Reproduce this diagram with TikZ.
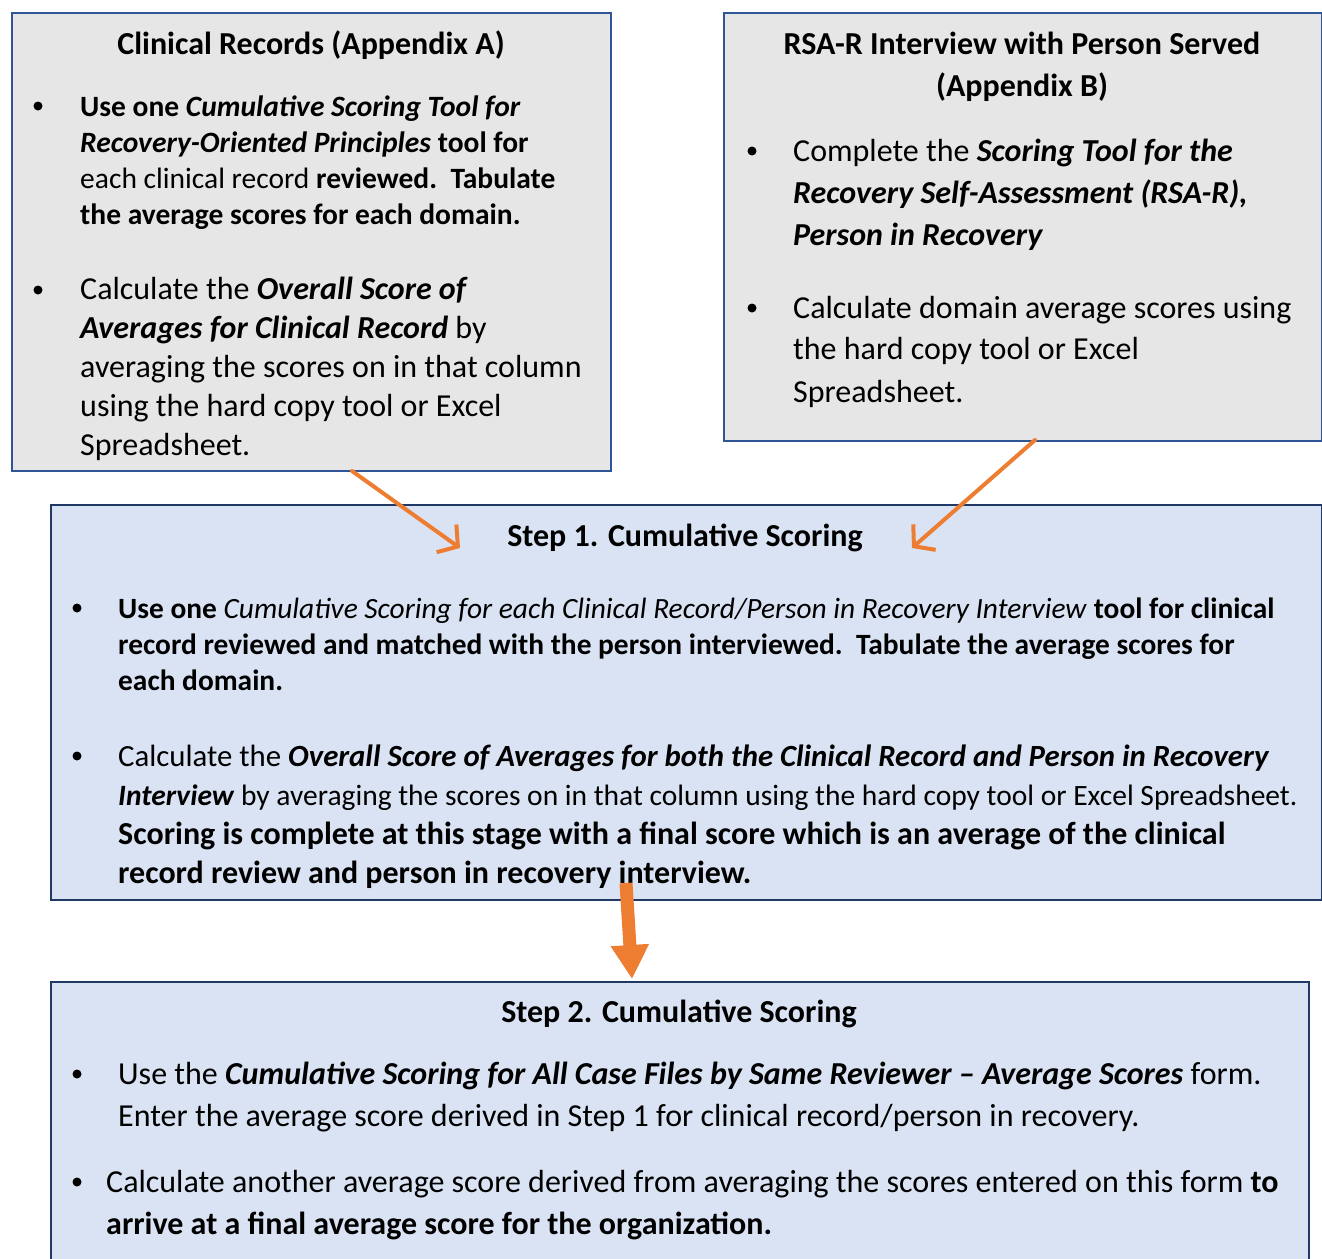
\documentclass[tikz,border=0pt]{standalone}
\usepackage{fontspec}
\setmainfont{Carlito}
\usetikzlibrary{arrows.meta}
\definecolor{graybox}{HTML}{E6E6E6}
\definecolor{grayborder}{HTML}{2F5597}
\definecolor{bluebox}{HTML}{DAE3F3}
\definecolor{blueborder}{HTML}{1F3864}
\definecolor{arroworange}{HTML}{ED7D31}
\newcommand\fsz[1]{\fontsize{#1}{#1}\selectfont}
\newcommand\bi[1]{\textbf{\textit{#1}}}
\tikzset{
  graypanel/.style={draw=grayborder, fill=graybox, line width=2pt, anchor=north west, inner sep=0pt},
  bluepanel/.style={draw=blueborder, fill=bluebox, line width=2pt, anchor=north west, inner sep=0pt},
  ln/.style={anchor=base west, inner sep=0pt},
  ttl/.style={anchor=base, inner sep=0pt, font=\fsz{32}\bfseries},
  dot/.style={circle, fill=black, inner sep=0pt, minimum size=9pt},
  thinarrow/.style={draw=arroworange, line width=4pt, line cap=round, -{Straight Barb[length=14pt,width=34pt,line width=4pt]}},
  fatarrow/.style={draw=arroworange, line width=13pt, -{Triangle[length=34pt,width=36pt]}}
}
\begin{document}
\begin{tikzpicture}[x=1pt,y=-1pt]
\useasboundingbox (0,0) rectangle (1322,1258);
% panels
\node[graypanel, minimum width=599pt, minimum height=458pt] (A) at (11,12) {};
\node[graypanel, minimum width=598pt, minimum height=428pt] (B) at (723,12) {};
\node[bluepanel, minimum width=1271pt, minimum height=395pt] (S1) at (50,504) {};
\node[bluepanel, minimum width=1258pt, minimum height=290pt] (S2) at (50,981) {};

% Box A
\node[ttl] (At) at (311,54) {Clinical Records (Appendix A)};
\node[dot] (Ad1) at (38,106) {};
\node[ln, font=\fsz{29.5}] (A1) at (80,116) {\textbf{Use one \textit{Cumulative Scoring Tool for}}};
\node[ln, font=\fsz{29.5}] (A2) at (80,152) {\textbf{\textit{Recovery-Oriented Principles} tool for}};
\node[ln, font=\fsz{29.5}] (A3) at (80,188) {each clinical record \textbf{reviewed.\ \ Tabulate}};
\node[ln, font=\fsz{29.5}] (A4) at (80,224) {\textbf{the average scores for each domain.}};
\node[dot] (Ad2) at (38,290) {};
\node[ln, font=\fsz{32}] (A5) at (80,299) {Calculate the \bi{Overall Score of}};
\node[ln, font=\fsz{32}] (A6) at (80,338) {\bi{Averages for Clinical Record} by};
\node[ln, font=\fsz{32}] (A7) at (80,377) {averaging the scores on in that column};
\node[ln, font=\fsz{32}] (A8) at (80,416) {using the hard copy tool or Excel};
\node[ln, font=\fsz{32}] (A9) at (80,455) {Spreadsheet.};

% Box B
\node[ttl] (Bt1) at (1022,54) {RSA-R Interview with Person Served};
\node[ttl] (Bt2) at (1022,96) {(Appendix B)};
\node[dot] (Bd1) at (752,151) {};
\node[ln, font=\fsz{32}] (B1) at (793,161) {Complete the \bi{Scoring Tool for the}};
\node[ln, font=\fsz{32}] (B2) at (793,203) {\bi{Recovery Self-Assessment (RSA-R),}};
\node[ln, font=\fsz{32}] (B3) at (793,245) {\bi{Person in Recovery}};
\node[dot] (Bd2) at (752,308) {};
\node[ln, font=\fsz{32}] (B4) at (793,318) {Calculate domain average scores using};
\node[ln, font=\fsz{32}] (B5) at (793,359) {the hard copy tool or Excel};
\node[ln, font=\fsz{32}] (B6) at (793,402) {Spreadsheet.};

% Step 1
\node[ttl] (S1t) at (685,546) {Step 1. Cumulative Scoring};
\node[dot] (S1d1) at (77,608) {};
\node[ln, font=\fsz{29.4}] (S11) at (118,618) {\textbf{Use one} \textit{Cumulative Scoring for each Clinical Record/Person in Recovery Interview} \textbf{tool for clinical}};
\node[ln, font=\fsz{29.4}] (S12) at (118,654) {\textbf{record reviewed and matched with the person interviewed.\ \ Tabulate the average scores for}};
\node[ln, font=\fsz{29.4}] (S13) at (118,690) {\textbf{each domain.}};
\node[dot] (S1d2) at (77,756) {};
\node[ln, font=\fsz{30.8}] (S14) at (118,766) {Calculate the \bi{Overall Score of Averages for both the Clinical Record and Person in Recovery}};
\node[ln, font=\fsz{29.5}] (S15) at (118,805) {\bi{Interview} by averaging the scores on in that column using the hard copy tool or Excel Spreadsheet.};
\node[ln, font=\fsz{32}] (S16) at (118,844) {\textbf{Scoring is complete at this stage with a final score which is an average of the clinical}};
\node[ln, font=\fsz{32}] (S17) at (118,883) {\textbf{record review and person in recovery interview.}};

% Step 2
\node[ttl] (S2t) at (679,1022) {Step 2. Cumulative Scoring};
\node[dot] (S2d1) at (77,1074) {};
\node[ln, font=\fsz{32}] (S21) at (118,1084) {Use the \bi{Cumulative Scoring for All Case Files by Same Reviewer -- Average Scores} form.};
\node[ln, font=\fsz{32}] (S22) at (118,1126) {Enter the average score derived in Step 1 for clinical record/person in recovery.};
\node[dot] (S2d2) at (77,1182) {};
\node[ln, font=\fsz{32}] (S23) at (106,1192) {Calculate another average score derived from averaging the scores entered on this form \textbf{to}};
\node[ln, font=\fsz{32}] (S24) at (106,1234) {\textbf{arrive at a final average score for the organization.}};

% arrows
\coordinate (a1s) at (352,471);
\coordinate (a1e) at (460,548);
\coordinate (a2s) at (1035,440);
\coordinate (a2e) at (912,548);
\coordinate (a3s) at (626,883);
\coordinate (a3e) at (632,979);
\draw[thinarrow] (a1s) -- (a1e);
\draw[thinarrow] (a2s) -- (a2e);
\draw[fatarrow] (a3s) -- (a3e);
\end{tikzpicture}
\end{document}
